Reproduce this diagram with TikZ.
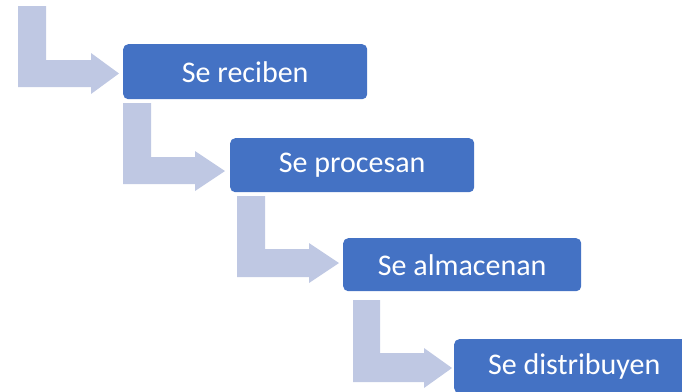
\documentclass[tikz,border=0pt]{standalone}
\usepackage{fontspec}
\setmainfont{Carlito}
\usetikzlibrary{calc}
\definecolor{boxblue}{HTML}{4472C4}
\definecolor{arrowblue}{HTML}{BFC8E3}
\tikzset{
  stepbox/.style={fill=boxblue, rounded corners=5pt, text=white, anchor=north west,
    inner sep=0pt, font=\fontsize{30}{34}\selectfont},
  bentarrow/.style={fill=arrowblue}
}
\begin{document}
\begin{tikzpicture}[x=1pt,y=-1pt]
\useasboundingbox (0,0) rectangle (682,391);
\clip (0,0) rectangle (682,391);
\node[stepbox, minimum width=244pt, minimum height=55pt] (b1) at (123,44) {Se reciben};
\node[stepbox, minimum width=244pt, minimum height=54pt] (b2) at (230,138) {Se procesan};
\node[stepbox, minimum width=238pt, minimum height=53pt] (b3) at (343,238) {Se almacenan};
\node[stepbox, minimum width=240pt, minimum height=54pt] (b4) at (454,339) {Se distribuyen};
% bent arrows
\fill[bentarrow] (18,6) -- (46,6) -- (46,60) -- (91,60) -- (91,53) -- (119,73.5)
  -- (91,94) -- (91,87) -- (18,87) -- cycle;
\fill[bentarrow] (123,103) -- (151,103) -- (151,157) -- (195,157) -- (195,151) -- (225,171)
  -- (195,191) -- (195,184) -- (123,184) -- cycle;
\fill[bentarrow] (237,196) -- (265,196) -- (265,249) -- (309,249) -- (309,243) -- (339,263)
  -- (309,283) -- (309,277) -- (237,277) -- cycle;
\fill[bentarrow] (353,300) -- (380,300) -- (380,353) -- (424,353) -- (424,348) -- (452,368)
  -- (424,388) -- (424,382) -- (353,382) -- cycle;
\end{tikzpicture}
\end{document}
